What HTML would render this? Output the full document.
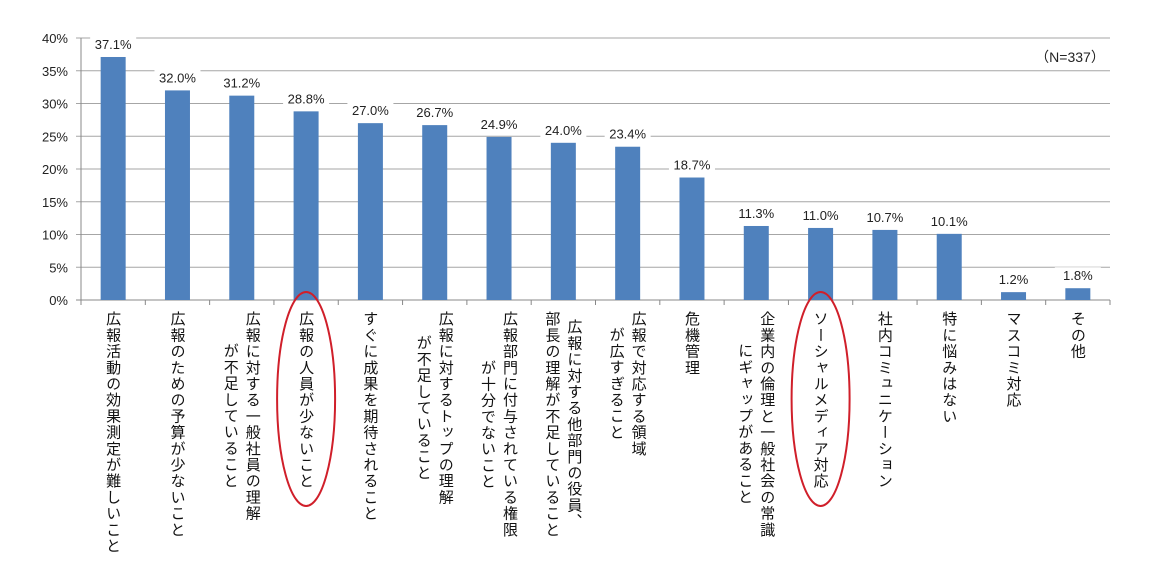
<!DOCTYPE html>
<html><head><meta charset="utf-8">
<style>
body{margin:0;background:#fff;width:1166px;height:562px;overflow:hidden;position:relative;font-family:"Liberation Sans","Noto Sans CJK JP",sans-serif;}
svg{position:absolute;left:0;top:0}
.lbl{position:absolute;top:311px;writing-mode:vertical-rl;text-align:center;font-size:15px;line-height:22px;letter-spacing:1.2px;color:#111;white-space:nowrap;font-family:"Noto Sans CJK JP",sans-serif;}
</style></head>
<body>
<svg id="chart" width="1166" height="562"></svg>
<div id="labels"></div>
<script>
const categories=["広報活動の効果測定が難しいこと","広報のための予算が少ないこと","広報に対する一般社員の理解\nが不足していること","広報の人員が少ないこと","すぐに成果を期待されること","広報に対するトップの理解\nが不足していること","広報部門に付与されている権限\nが十分でないこと","広報に対する他部門の役員、\n部長の理解が不足していること","広報で対応する領域\nが広すぎること","危機管理","企業内の倫理と一般社会の常識\nにギャップがあること","ソーシャルメディア対応","社内コミュニケーション","特に悩みはない","マスコミ対応","その他"];
const values=[37.1,32.0,31.2,28.8,27.0,26.7,24.9,24.0,23.4,18.7,11.3,11.0,10.7,10.1,1.2,1.8];
const yTicks=[0,5,10,15,20,25,30,35,40];
const highlighted=[3,11];
const NS="http://www.w3.org/2000/svg";
const svg=document.getElementById('chart');
const L=81,R=1110,T=38,B=300,YMAX=40;
const bw=(R-L)/categories.length;
const y=v=>B-(v/YMAX)*(B-T);
const xc=i=>L+bw*(i+0.5);
function el(tag,attrs){const e=document.createElementNS(NS,tag);for(const k in attrs)e.setAttribute(k,attrs[k]);svg.appendChild(e);return e;}
yTicks.forEach(t=>{
  const g=el('line',{x1:L-5,x2:R,y1:y(t),y2:y(t),stroke:t===0?'#888':'#a6a6a6','stroke-width':1});
  
  
  const tx=el('text',{x:L-13,y:y(t)+5,'text-anchor':'end','font-size':13,fill:'#222','font-family':'Liberation Sans, sans-serif'});
  tx.textContent=t+'%';
  
  
});
const ax=el('line',{x1:L,x2:L,y1:T,y2:B,stroke:'#888'});


for(let i=0;i<=categories.length;i++){
  const tk=el('line',{x1:L+bw*i,x2:L+bw*i,y1:B,y2:B+5,stroke:'#888'});
  
  
}
values.forEach((v,i)=>{
  const r=el('rect',{x:xc(i)-12.5,y:y(v),width:25,height:B-y(v),fill:'#4f81bd'});
  
  
  const s=v.toFixed(1)+'%';
  const bg=el('rect',{x:xc(i)-23,y:y(v)-21,width:46,height:16,fill:'#fff'});
  
  
  const t=el('text',{x:xc(i),y:y(v)-8,'text-anchor':'middle','font-size':13,fill:'#222','font-family':'Liberation Sans, sans-serif'});
  t.textContent=s;
  
  
});
highlighted.forEach(i=>{
  const e=el('ellipse',{cx:xc(i),cy:399,rx:29,ry:107,fill:'none',stroke:'#d01f2a','stroke-width':2});
  
  
});
const n=el('text',{x:1070,y:62,'text-anchor':'middle','font-size':14,fill:'#222','font-family':'Liberation Sans, sans-serif'});
n.textContent='（N=337）';


const lw=document.getElementById('labels');
categories.forEach((c,i)=>{
  const d=document.createElement('div');
  d.className='lbl';
  d.innerHTML=c.split('\n').map(s=>s).join('<br>');
  
  
  lw.appendChild(d);
  d.style.left=(xc(i)-d.offsetWidth/2)+'px';
});
</script>
</body></html>
